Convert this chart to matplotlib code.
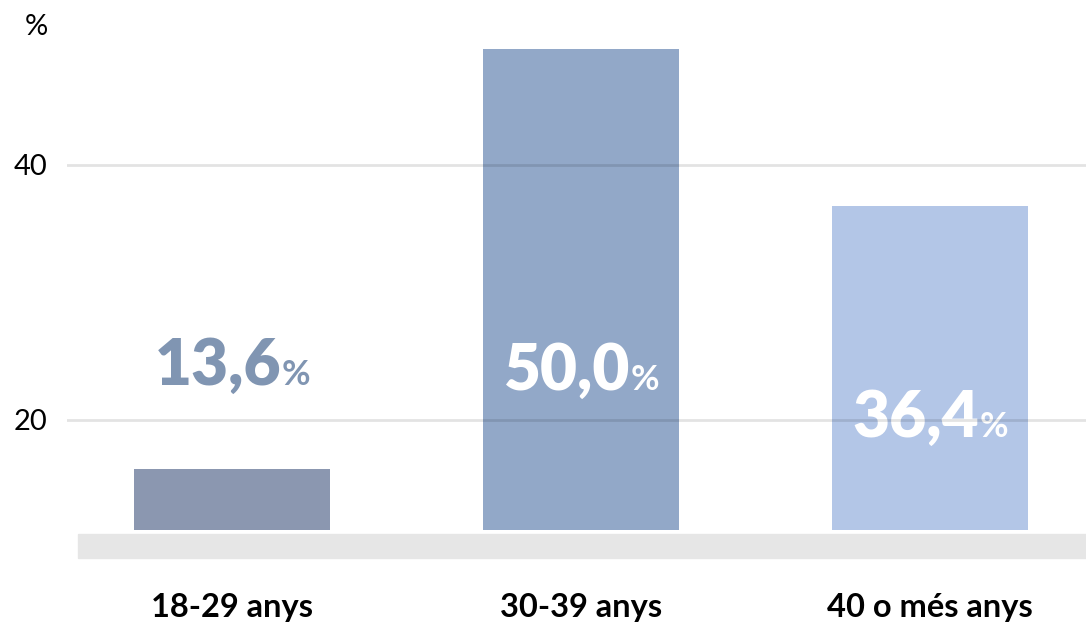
import matplotlib
matplotlib.use("Agg")
import matplotlib.pyplot as plt
from matplotlib.patches import Rectangle
from matplotlib.transforms import offset_copy

plt.rcParams['font.family'] = ['Lato', 'DejaVu Sans']

# dades
categories = ['18-29 anys', '30-39 anys', '40 o més anys']
values = [13.6, 50.0, 36.4]
value_labels = ['13,6', '50,0', '36,4']
y_ticks = [20, 40]

bar_colors = ['#8B97B0', '#92A8C8', '#B3C6E7']
label_colors = ['#8095B2', 'white', 'white']
label_y = [20.9, 20.5, 16.4]   # on es col·loca cada etiqueta (escala de les barres)

fig = plt.figure(figsize=(10.86, 6.32), dpi=100)
W, H = 1086, 632
rect = [67 / W, 1 - 530 / H, 1019 / W, 530 / H]

# eix de les barres
ax = fig.add_axes(rect)
x = range(len(categories))
ax.bar(x, values, width=0.56, color=bar_colors, zorder=2)
ax.set_xlim(-0.473, 2.447)
ax.set_ylim(8.32, 54.27)
ax.set_yticks([])
ax.set_xticks(list(x))
ax.set_xticklabels(categories, fontsize=23.5, fontweight='bold', color='black')
ax.tick_params(axis='x', length=0, pad=45)
for s in ax.spines.values():
    s.set_visible(False)
ax.patch.set_alpha(0)

# eix de la quadrícula (a sobre, transparent)
axg = fig.add_axes(rect, zorder=3)
axg.set_ylim(11.37, 52.94)
axg.set_xlim(0, 1)
axg.set_yticks(y_ticks)
axg.set_yticklabels([str(t) for t in y_ticks], fontsize=21)
axg.tick_params(axis='y', length=0, pad=14)
axg.set_xticks([])
axg.grid(axis='y', color='black', alpha=0.11, linewidth=2)
for s in axg.spines.values():
    s.set_visible(False)
axg.patch.set_alpha(0)

fig.text(25 / W, 1 - 27 / H, '%', fontsize=21, va='center', ha='left')

# banda grisa sota les barres
fig.add_artist(Rectangle((78 / W, 1 - 558 / H), 1008 / W, 24 / H,
                         transform=fig.transFigure, color='#E6E6E6', zorder=1))

# etiquetes de valor: número gran + % petit
fig.canvas.draw()
renderer = fig.canvas.get_renderer()
for i, (lab, col, yy) in enumerate(zip(value_labels, label_colors, label_y)):
    t1 = ax.text(i, yy, lab, fontsize=46, fontweight='heavy', color=col,
                 ha='center', va='baseline', zorder=4)
    t2 = ax.text(i, yy, '%', fontsize=25, fontweight='bold', color=col,
                 ha='left', va='baseline', zorder=4)
    w1 = t1.get_window_extent(renderer).width
    w2 = t2.get_window_extent(renderer).width
    shift = -w2 / 2
    t1.set_transform(offset_copy(ax.transData, fig=fig, x=shift, y=0, units='dots'))
    t2.set_transform(offset_copy(ax.transData, fig=fig, x=shift + w1 / 2 + 1, y=0, units='dots'))

fig.savefig('out.png', dpi=100)
